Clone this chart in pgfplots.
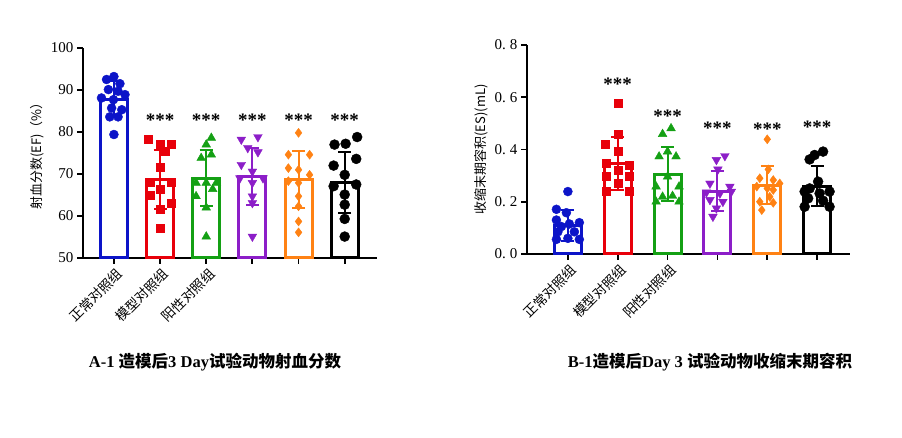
\documentclass[border=0pt]{standalone}
\usepackage{fontspec}
\setmainfont{Liberation Serif}
\newfontfamily\cjk{Noto Sans CJK SC}
\usepackage{pgfplots}
\pgfplotsset{compat=1.18}
\definecolor{cblue}{RGB}{12,20,200}
\definecolor{cred}{RGB}{232,0,10}
\definecolor{cgreen}{RGB}{20,160,20}
\definecolor{cpurple}{RGB}{140,30,200}
\definecolor{corange}{RGB}{255,130,20}
\tikzset{star/.style={font=\bfseries\fontsize{19}{19}\selectfont, inner sep=0pt}}
\pgfplotsset{
  panel/.style={
    anchor=south west, scale only axis,
    axis x line=bottom, axis y line=left,
    axis line style={line width=2pt,-},
    tick align=outside, major tick length=6pt,
    tick style={black, line width=1.8pt},
    xtick={0,1,2,3,4,5},
    xticklabels={正常对照组,模型对照组,阳性对照组,{},{},{}},
    xticklabel style={font=\cjk\fontsize{13.5}{13.5}\selectfont, rotate=45, anchor=north east, inner sep=1pt, yshift=-2pt},
    yticklabel style={font=\fontsize{15}{15}\selectfont},
    /pgf/number format/assume math mode=true,
    ylabel style={font=\cjk\fontsize{13}{13}\selectfont},
    clip=false,
  },
  bar/.style={ybar, bar shift=0pt, bar width=27pt, draw=#1, fill=white, line width=3pt,
    error bars/.cd, y dir=both, y explicit,
    error bar style={line width=2pt, #1},
    error mark options={rotate=90, mark size=6.5pt, line width=2pt, #1}},
  pts/.style={only marks, mark options={fill=#1, draw=#1}, color=#1},
}
\begin{document}
\begin{tikzpicture}
\useasboundingbox (0,0) rectangle (902pt,438pt);
% ---------------- A-1 ----------------
\begin{axis}[panel, at={(83pt,180pt)}, width=294pt, height=210pt,
  xmin=-0.67, xmax=5.7, ymin=50, ymax=100, ytick={50,60,70,80,90,100},
  ylabel={射血分数(EF)（\%）}]
\addplot[bar=cblue] coordinates {(0,87.8) +- (0,4.3)};
\addplot[bar=cred] coordinates {(1,68.6) +- (0,7.0)};
\addplot[bar=cgreen] coordinates {(2,69.0) +- (0,6.7)};
\addplot[bar=cpurple] coordinates {(3,69.4) +- (0,6.8)};
\addplot[bar=corange] coordinates {(4,68.6) +- (0,6.8)};
\addplot[bar=black] coordinates {(5,68.0) +- (0,7.2)};
\addplot[pts=cblue, mark=*, mark size=4.5pt] coordinates {
 (0,93.2) (-0.16,92.5) (0.13,91.5) (-0.12,90.1) (0.09,89.7) (-0.27,88.1) (0.24,88.9)
 (-0.01,87.7) (-0.05,85.7) (0.17,85.3) (-0.09,83.6) (0.09,83.6) (0,79.4)};
\addplot[pts=cred, mark=square*, mark size=4pt] coordinates {
 (0.75,78.3) (1.0,77.0) (1.25,77.0) (1.12,75.4) (1.0,71.7) (0.78,68.0) (1.25,68.0)
 (1.0,66.3) (0.78,64.9) (1.25,63.1) (1.0,61.5) (1.0,57.1)};
\addplot[pts=cgreen, mark=triangle*, mark size=5pt] coordinates {
 (2.11,78.6) (2.0,77.0) (1.89,73.8) (2.11,74.6) (1.78,67.9) (2.0,67.9) (2.22,67.9)
 (2.14,66.4) (1.78,64.7) (2.0,62.0) (2.0,55.1)};
\addplot[pts=cpurple, mark=triangle*, mark options={rotate=180}, mark size=5pt] coordinates {
 (2.76,78.2) (3.12,78.8) (2.9,76.2) (3.12,75.2) (2.76,72.2) (3.0,70.6) (2.73,69.0)
 (3.23,69.0) (3.0,67.9) (3.0,64.7) (3.0,63.1) (3.0,55.1)};
\addplot[pts=corange, mark=diamond*, mark size=4.5pt] coordinates {
 (4.0,79.8) (3.78,74.6) (4.24,74.6) (3.78,71.4) (4.0,71.0) (4.24,69.8) (3.78,68.3)
 (4.0,67.9) (4.0,64.7) (4.0,62.3) (4.0,58.7) (4.0,56.1)};
\addplot[pts=black, mark=*, mark size=5pt] coordinates {
 (5.27,78.8) (4.78,77.0) (5.02,77.2) (4.76,72.0) (5.25,73.6) (5.0,69.8) (4.76,67.1)
 (5.25,67.5) (5.0,65.1) (5.0,62.7) (5.0,59.3) (5.0,55.1)};
\node[star] at (axis cs:1,82.8) {***};
\node[star] at (axis cs:2,82.8) {***};
\node[star] at (axis cs:3,82.8) {***};
\node[star] at (axis cs:4,82.8) {***};
\node[star] at (axis cs:5,82.8) {***};
\end{axis}
% ---------------- B-1 ----------------
\begin{axis}[panel, at={(527pt,184pt)}, width=323pt, height=209pt,
  xmin=-0.82, xmax=5.66, ymin=0, ymax=0.8, ytick={0,0.2,0.4,0.6,0.8},
  yticklabels={0.\;0,0.\;2,0.\;4,0.\;6,0.\;8},
  ylabel={收缩末期容积(ES)(mL)}]
\addplot[bar=cblue] coordinates {(0,0.11) +- (0,0.06)};
\addplot[bar=cred] coordinates {(1,0.347) +- (0,0.102)};
\addplot[bar=cgreen] coordinates {(2,0.306) +- (0,0.104)};
\addplot[bar=cpurple] coordinates {(3,0.241) +- (0,0.075)};
\addplot[bar=corange] coordinates {(4,0.264) +- (0,0.073)};
\addplot[bar=black] coordinates {(5,0.26) +- (0,0.077)};
\addplot[pts=cblue, mark=*, mark size=4.5pt] coordinates {
 (0,0.239) (-0.23,0.171) (-0.03,0.158) (-0.23,0.130) (0.23,0.120) (0.03,0.115)
 (-0.13,0.105) (-0.2,0.085) (0.13,0.085) (0.23,0.056) (-0.23,0.056) (0,0.06)};
\addplot[pts=cred, mark=square*, mark size=4pt] coordinates {
 (1,0.579) (1,0.459) (0.75,0.421) (1,0.392) (0.77,0.347) (1.23,0.341) (1,0.322)
 (0.77,0.296) (1.23,0.296) (1,0.270) (0.77,0.239) (1.23,0.239)};
\addplot[pts=cgreen, mark=triangle*, mark size=5pt] coordinates {
 (2.07,0.481) (1.9,0.459) (2,0.392) (1.83,0.373) (2.17,0.373) (2,0.296) (1.77,0.258)
 (2.23,0.258) (1.9,0.219) (2.1,0.222) (1.77,0.200) (2.23,0.200)};
\addplot[pts=cpurple, mark=triangle*, mark options={rotate=180}, mark size=5pt] coordinates {
 (3.15,0.375) (2.98,0.360) (3.01,0.324) (2.85,0.270) (3.25,0.258) (2.78,0.236)
 (3.05,0.232) (3.28,0.239) (2.85,0.207) (3.11,0.200) (2.98,0.175) (2.91,0.143)};
\addplot[pts=corange, mark=diamond*, mark size=4.5pt] coordinates {
 (4,0.439) (4.02,0.324) (3.85,0.290) (4.12,0.283) (4.25,0.270) (3.79,0.258) (4,0.251)
 (4.12,0.245) (4.05,0.219) (3.85,0.200) (4.12,0.196) (3.89,0.168)};
\addplot[pts=black, mark=*, mark size=5pt] coordinates {
 (5.12,0.392) (4.95,0.379) (4.85,0.362) (5.02,0.277) (4.85,0.251) (5.25,0.239)
 (4.75,0.239) (5.05,0.232) (4.82,0.213) (5.12,0.204) (4.75,0.181) (5.25,0.181)};
\node[star] at (axis cs:1,0.648) {***};
\node[star] at (axis cs:2,0.529) {***};
\node[star] at (axis cs:3,0.482) {***};
\node[star] at (axis cs:4,0.479) {***};
\node[star] at (axis cs:5,0.484) {***};
\end{axis}
\node[font=\bfseries\fontsize{16.5}{16.5}\selectfont] at (215pt,76pt) {A-1 {\cjk 造模后}3 Day{\cjk 试验动物射血分数}};
\node[font=\bfseries\fontsize{16.5}{16.5}\selectfont] at (710pt,76pt) {B-1{\cjk 造模后}Day 3 {\cjk 试验动物收缩末期容积}};
\end{tikzpicture}
\end{document}
